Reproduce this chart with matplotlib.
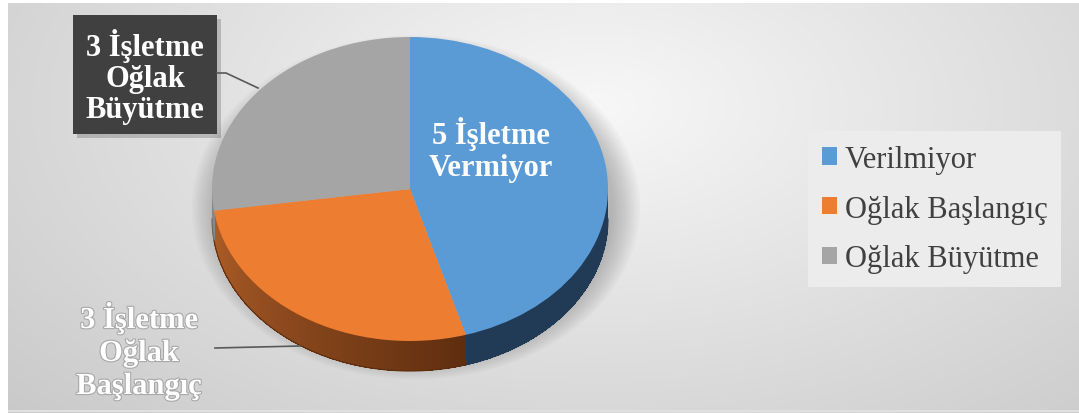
import numpy as np
import matplotlib
matplotlib.use("Agg")
import matplotlib.pyplot as plt
from matplotlib.patches import Rectangle, Ellipse, Polygon
from matplotlib.colors import to_rgb
import matplotlib.patheffects as pe

# ---- data ----
categories = ["Verilmiyor", "Oğlak Başlangıç", "Oğlak Büyütme"]
counts = [5, 3, 3]
slice_labels = ["Vermiyor", "Oğlak\nBaşlangıç", "Oğlak\nBüyütme"]
unit = "İşletme"

colors = ["#5b9bd5", "#ed7d31", "#a5a5a5"]
side_dark = ["#213b57", "#5c2c0e", "#6a6a6a"]
side_light = ["#263f5b", "#b5622a", "#8a8a8a"]

W, H = 1079, 414
fig = plt.figure(figsize=(W / 100, H / 100), dpi=100)
fig.patch.set_facecolor("white")

def fx(px):
    return px / W

def fy(py):
    return 1 - py / H

# ---- background gradient ----
bg = fig.add_axes([fx(8), 0.0, 1 - fx(8), fy(4)])
bg.set_axis_off()
nx, ny = 400, 160
xx, yy = np.meshgrid(np.linspace(0, 1, nx), np.linspace(0, 1, ny))
d = np.sqrt(((xx - 0.55) / 0.75) ** 2 + ((yy - 0.25) / 1.1) ** 2)
d = np.clip(d, 0, 1)
top_c = np.array([0.97, 0.97, 0.97])
edge_c = np.array([0.79, 0.79, 0.79])
img = top_c[None, None, :] * (1 - d[..., None]) + edge_c[None, None, :] * d[..., None]
bg.imshow(img, extent=[0, 1, 1, 0], aspect="auto", interpolation="bilinear")
bg.set_xlim(0, 1)
bg.set_ylim(1, 0)
bg.plot([0, 1], [0.004, 0.004], color="#e0e0e0", lw=1.5, transform=bg.transAxes)

# ---- pie axes (elliptical, tilted look) ----
cx, cy, rx, ry = 410, 190, 198, 152
pax = fig.add_axes([fx(cx - rx), fy(cy + ry), 2 * rx / W, 2 * ry / H])
pax.set_axis_off()
depth = 30 / ry

# soft shadow
for i in range(12):
    s = 1.0 + 0.012 * i
    pax.add_patch(Ellipse((0.03, -0.12), 2 * s, 2 * s, facecolor="black",
                          alpha=0.018, lw=0, zorder=0, clip_on=False))

fracs = np.array(counts, dtype=float) / sum(counts)
bounds = 90 - 360 * np.concatenate([[0], np.cumsum(fracs)])

# sides (front half only)
for i in range(len(counts)):
    a_hi, a_lo = bounds[i], bounds[i + 1]
    lo, hi = max(a_lo, -180), min(a_hi, 0)
    if hi <= lo:
        continue
    angs = np.linspace(lo, hi, 150)
    c0, c1 = np.array(to_rgb(side_light[i])), np.array(to_rgb(side_dark[i]))
    for j in range(len(angs) - 1):
        t1, t2 = np.radians(angs[j]), np.radians(min(angs[j + 1] + 0.4, hi))
        tm = (angs[j] + angs[j + 1]) / 2
        k = np.clip((tm + 180) / 110, 0, 1)
        col = c0 * (1 - k) + c1 * k
        pts = [(np.cos(t1), np.sin(t1)), (np.cos(t2), np.sin(t2)),
               (np.cos(t2), np.sin(t2) - depth), (np.cos(t1), np.sin(t1) - depth)]
        pax.add_patch(Polygon(pts, closed=True, facecolor=col, edgecolor="none",
                              lw=0, antialiased=False, zorder=1, clip_on=False))
    tt = np.radians(np.linspace(lo, hi, 200))
    pax.plot(np.cos(tt), np.sin(tt) - depth, color=tuple(c1), lw=0.8, zorder=1.1,
             clip_on=False)

wedges, _ = pax.pie(counts, colors=colors, startangle=90, counterclock=False,
                    radius=1, wedgeprops=dict(linewidth=0, zorder=2))
pax.set_aspect("auto")
pax.set_xlim(-1, 1)
pax.set_ylim(-1, 1)

# ---- overlay for labels ----
ov = fig.add_axes([0, 0, 1, 1])
ov.set_axis_off()
ov.set_xlim(0, W)
ov.set_ylim(H, 0)

serif = ["Liberation Serif", "DejaVu Serif"]

# Label for slice 0 (inside)
ov.text(491, 150, f"{counts[0]} {unit}\n{slice_labels[0]}", color="white",
        fontsize=22, fontweight="bold", family=serif, ha="center", va="center",
        linespacing=1.12)

# Label for slice 2 (box, top-left)
ov.add_patch(Rectangle((77, 20), 144, 119, facecolor="#000000", alpha=0.18, lw=0, zorder=3))
ov.add_patch(Rectangle((73, 16), 144, 119, facecolor="#404040", lw=0, zorder=4))
ov.text(145, 77, f"{counts[2]} {unit}\n{slice_labels[2]}", color="white",
        fontsize=22, fontweight="bold", family=serif, ha="center", va="center",
        linespacing=1.1, zorder=5)
ov.plot([217, 226, 258], [74, 74, 89], color="#595959", lw=1.2, zorder=4)

# Label for slice 1 (bottom-left)
ov.text(139, 352, f"{counts[1]} {unit}\n{slice_labels[1]}", color="white",
        fontsize=22, fontweight="bold", family=serif, ha="center", va="center",
        linespacing=1.18, zorder=5,
        path_effects=[pe.withStroke(linewidth=1.6, foreground="#a8a8a8")])
ov.plot([215, 300], [349, 347], color="#595959", lw=1.2, zorder=4)

# ---- legend ----
leg = fig.legend(wedges, categories, loc="upper left",
                 bbox_to_anchor=(fx(808), fy(132)), bbox_transform=fig.transFigure,
                 frameon=True, fancybox=False, framealpha=1,
                 prop=dict(family=serif, size=22),
                 handlelength=0.5, handleheight=0.5, handletextpad=0.25,
                 labelspacing=0.68, borderpad=0.45, borderaxespad=0)
leg.get_frame().set_facecolor("#ececec")
leg.get_frame().set_edgecolor("none")
for t in leg.get_texts():
    t.set_color("#404040")

fig.savefig("out.png", dpi=100)
